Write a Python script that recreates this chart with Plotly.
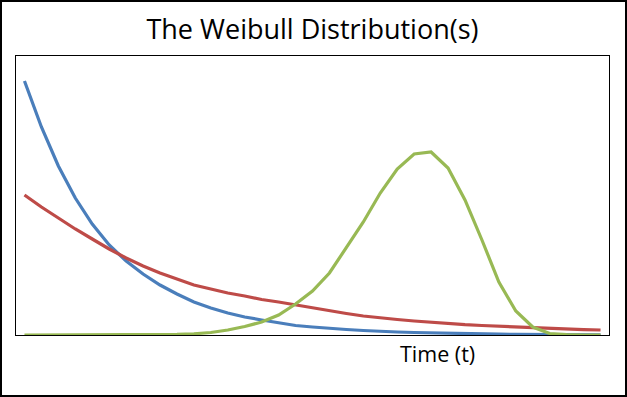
import plotly.graph_objects as go

# Time categories (no visible tick labels in the reference)
time_points = [str(i) for i in range(1, 36)]

# Series values (relative density units)
weibull_blue = [2.54, 2.08, 1.69, 1.37, 1.11, 0.90, 0.74, 0.61, 0.50, 0.41,
                0.33, 0.27, 0.22, 0.18, 0.15, 0.12, 0.095, 0.08, 0.065, 0.055,
                0.045, 0.035, 0.03, 0.025, 0.02, 0.015, 0.012, 0.01, 0.008, 0.006,
                0.005, 0.004, 0.003, 0.002, 0.002]
weibull_red = [1.40, 1.28, 1.17, 1.06, 0.96, 0.86, 0.77, 0.69, 0.62, 0.56,
               0.50, 0.46, 0.42, 0.39, 0.355, 0.33, 0.30, 0.27, 0.245, 0.215,
               0.19, 0.17, 0.155, 0.14, 0.125, 0.115, 0.103, 0.095, 0.087, 0.08,
               0.07, 0.063, 0.058, 0.054, 0.05]
weibull_green = [0.0, 0.0, 0.0, 0.0, 0.0, 0.0, 0.0, 0.0, 0.003, 0.007,
                 0.012, 0.025, 0.05, 0.085, 0.13, 0.20, 0.31, 0.44, 0.62, 0.88,
                 1.13, 1.42, 1.66, 1.81, 1.83, 1.67, 1.35, 0.95, 0.53, 0.24,
                 0.08, 0.015, 0.003, 0.0, 0.0]

series = [
    ("Shape < 1", weibull_blue, "#4A7EBB"),
    ("Shape = 1", weibull_red, "#BE4B48"),
    ("Shape > 1", weibull_green, "#98B954"),
]

fig = go.Figure()
for name, vals, color in series:
    fig.add_trace(go.Scatter(x=time_points, y=vals, mode="lines", name=name,
                             line=dict(color=color, width=3.2)))

L, R, T, B = 16, 18, 56, 62
W, H = 627, 397
pw, ph = W - L - R, H - T - B

def px_to_paper_x(px):
    return (px - L) / pw

def px_to_paper_y(py):
    return (H - B - py) / ph

FONT = "Open Sans, sans-serif"

fig.update_layout(
    width=W, height=H,
    margin=dict(l=L, r=R, t=T, b=B),
    paper_bgcolor="white", plot_bgcolor="white",
    showlegend=False,
    font=dict(family=FONT, color="black"),
    title=dict(text="The Weibull Distribution(s)", x=px_to_paper_x(312.5), xref="paper",
               xanchor="center", y=1 - 30 / H, yref="container", yanchor="middle",
               font=dict(size=27, color="black", family=FONT)),
    xaxis=dict(type="category", range=[-0.5, 34.5], showticklabels=False, ticks="",
               showgrid=False, zeroline=False, showline=True, mirror=True,
               linecolor="black", linewidth=1, fixedrange=True),
    yaxis=dict(range=[0, 2.79], showticklabels=False, ticks="", showgrid=False,
               zeroline=False, showline=True, mirror=True, linecolor="black",
               linewidth=1, fixedrange=True),
)

fig.add_annotation(text="Time (t)", xref="paper", yref="paper",
                   x=px_to_paper_x(437.5), y=px_to_paper_y(353),
                   xanchor="center", yanchor="middle", showarrow=False,
                   font=dict(size=21.5, color="black", family=FONT))

fig.add_shape(type="rect", xref="paper", yref="paper",
              x0=px_to_paper_x(1), x1=px_to_paper_x(626),
              y0=px_to_paper_y(396), y1=px_to_paper_y(1),
              line=dict(color="black", width=2), fillcolor="rgba(0,0,0,0)")

fig.write_html("out.html", config={"displayModeBar": False},
               post_script="document.body.style.margin='0';")
